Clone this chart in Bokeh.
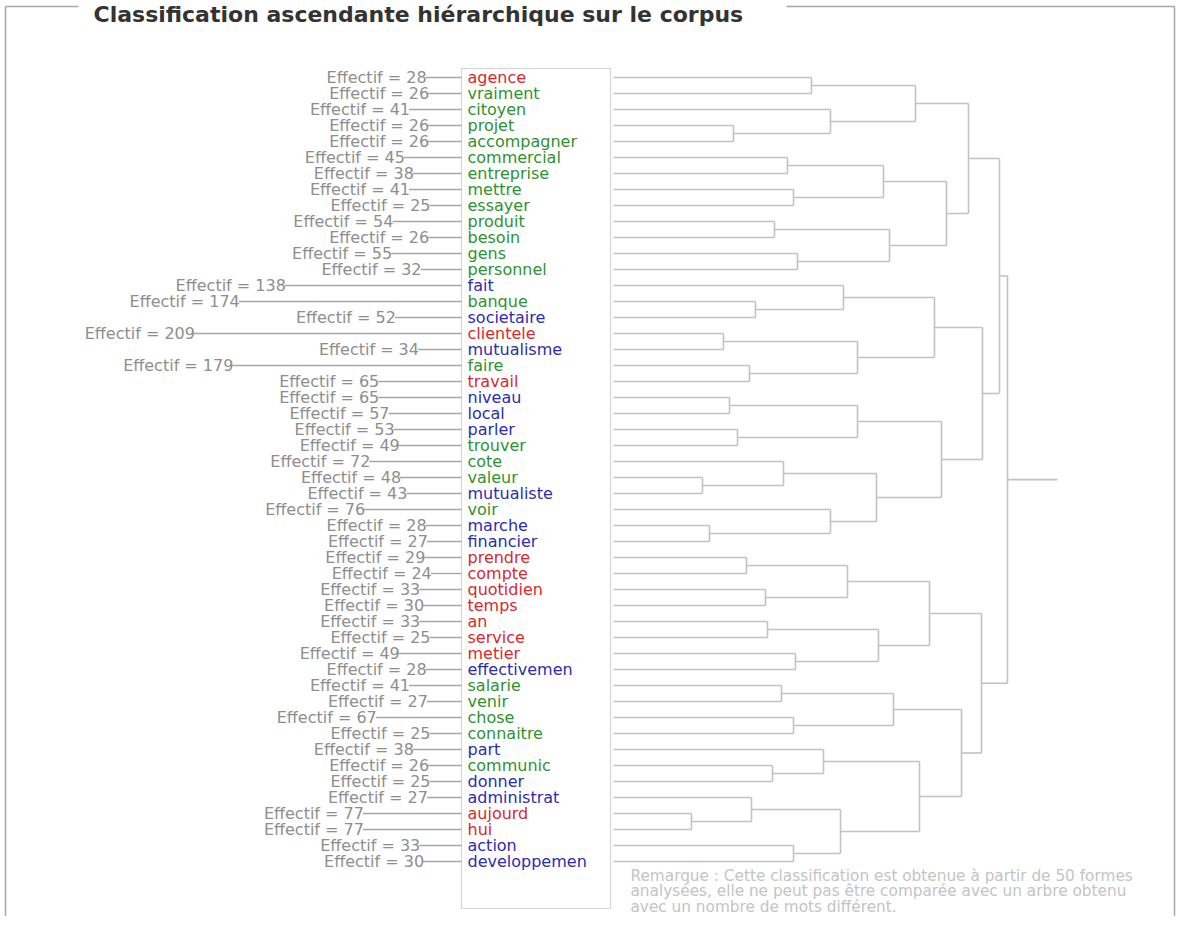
import numpy as np
from bokeh.plotting import figure
from bokeh.models import Range1d, ColumnDataSource
from bokeh.core.properties import value
from bokeh.embed import file_html
from bokeh.resources import INLINE

# ---------------- data ----------------
TITLE = "Classification ascendante hiérarchique sur le corpus"

words = ["agence", "vraiment", "citoyen", "projet", "accompagner", "commercial",
         "entreprise", "mettre", "essayer", "produit", "besoin", "gens", "personnel",
         "fait", "banque", "societaire", "clientele", "mutualisme", "faire", "travail",
         "niveau", "local", "parler", "trouver", "cote", "valeur", "mutualiste", "voir",
         "marche", "financier", "prendre", "compte", "quotidien", "temps", "an",
         "service", "metier", "effectivemen", "salarie", "venir", "chose", "connaitre",
         "part", "communic", "donner", "administrat", "aujourd", "hui", "action",
         "developpemen"]

effectifs = [28, 26, 41, 26, 26, 45, 38, 41, 25, 54, 26, 55, 32, 138, 174, 52, 209,
             34, 179, 65, 65, 57, 53, 49, 72, 48, 43, 76, 28, 27, 29, 24, 33, 30, 33,
             25, 49, 28, 41, 27, 67, 25, 38, 26, 25, 27, 77, 77, 33, 30]

classes = ["rouge", "vert", "vert", "vert", "vert", "vert", "vert", "vert", "vert",
           "vert", "vert", "vert", "vert", "bleu", "vert", "bleu", "rouge", "bleu",
           "vert", "rouge", "bleu", "bleu", "bleu", "vert", "vert", "vert", "bleu",
           "vert", "bleu", "bleu", "rouge", "rouge", "rouge", "rouge", "rouge", "rouge",
           "rouge", "bleu", "vert", "vert", "vert", "vert", "bleu", "vert", "bleu",
           "bleu", "rouge", "rouge", "bleu", "bleu"]

# linkage: leaves are 0..49, merge k creates cluster 50+k
merge_left = [0, 3, 2, 50, 5, 7, 54, 9, 11, 57, 56, 53, 14, 13, 16, 18, 64, 63,
              20, 22, 68, 25, 24, 28, 27, 72, 70, 67, 61,
              30, 32, 79, 34, 36, 82, 81, 38, 40, 86, 43, 42, 46, 45, 48, 92, 90,
              88, 85, 78]
merge_right = [1, 4, 51, 52, 6, 8, 55, 10, 12, 58, 59, 60, 15, 62, 17, 19, 65, 66,
               21, 23, 69, 26, 71, 29, 73, 74, 75, 76, 77,
               31, 33, 80, 35, 37, 83, 84, 39, 41, 87, 44, 89, 47, 91, 49, 93, 94,
               95, 96, 97]
merge_height = [198, 120, 217, 302, 174, 180, 270, 161, 184, 276, 333, 355, 142, 230,
                110, 136, 244, 321, 116, 124, 244, 89, 170, 96, 217, 263, 328, 369, 386,
                133, 152, 234, 154, 182, 265, 316, 168, 180, 280, 159, 210, 78, 138,
                180, 227, 306, 348, 368, 394]

remark_lines = ["Remarque : Cette classification est obtenue à partir de 50 formes",
                "analysées, elle ne peut pas être comparée avec un arbre obtenu",
                "avec un nombre de mots différent."]

class_colors = {"rouge": "#d8282e", "vert": "#2f9130", "bleu": "#2c2cb0"}

# ---------------- layout constants ----------------
ROW0, ROW_STEP = 77.0, 16.0
BOX_L, BOX_R, BOX_T, BOX_B = 461, 610, 68, 908
WORD_X = 467
EFF_SCALE = 1.28
DENDRO_X0 = 613
ROOT_STEM = 50
FONT = value("DejaVu Sans")

n = len(words)
ys = ROW0 + np.arange(n) * ROW_STEP

p = figure(width=1176, height=916, output_backend="svg", toolbar_location=None,
           x_range=Range1d(0, 1176), y_range=Range1d(916, 0), min_border=0)
p.axis.visible = False
p.grid.visible = False
p.outline_line_color = None
p.background_fill_color = "white"
p.border_fill_color = "white"

# frame (fieldset style)
p.segment(x0=[5, 5, 786, 1174], y0=[6, 6, 6, 6], x1=[5, 78, 1174, 1174],
          y1=[916, 6, 6, 916], line_color="#a8a8a8", line_width=1.5)

# title
p.text(x=[93], y=[14], text=[TITLE], text_font=value("DejaVu Sans"),
       text_font_style="bold", text_font_size=value("22px"), text_color="#333333",
       text_baseline="middle", text_align="left")

# word box
p.quad(left=[BOX_L], right=[BOX_R], top=[BOX_T], bottom=[BOX_B],
       fill_color="white", line_color="#d6d6d6", line_width=1.2)

# effectif connectors and labels
eff = np.array(effectifs, dtype=float)
x_start = BOX_L - EFF_SCALE * eff
src = ColumnDataSource(dict(x0=x_start, x1=np.full(n, BOX_L), y=ys,
                            lab=[f"Effectif = {e}" for e in effectifs],
                            w=words, col=[class_colors[c] for c in classes],
                            wx=np.full(n, WORD_X)))
p.segment(x0="x0", y0="y", x1="x1", y1="y", source=src, line_color="#a6a6a6",
          line_width=1.3)
p.text(x="x0", y="y", text="lab", source=src, text_font=FONT,
       text_font_size=value("16px"), text_color="#8e8e8e", text_align="right",
       text_baseline="middle", x_offset=1)
p.text(x="wx", y="y", text="w", source=src, text_font=FONT,
       text_font_size=value("16px"), text_color="col", text_align="left",
       text_baseline="middle")

# dendrogram
node_y = {i: ys[i] for i in range(n)}
node_h = {i: 0.0 for i in range(n)}
sx0, sy0, sx1, sy1 = [], [], [], []
for k, (a, b, h) in enumerate(zip(merge_left, merge_right, merge_height)):
    cid = n + k
    for c in (a, b):
        sx0.append(DENDRO_X0 + node_h[c]); sx1.append(DENDRO_X0 + h)
        sy0.append(node_y[c]); sy1.append(node_y[c])
    sx0.append(DENDRO_X0 + h); sx1.append(DENDRO_X0 + h)
    sy0.append(node_y[a]); sy1.append(node_y[b])
    node_y[cid] = (node_y[a] + node_y[b]) / 2
    node_h[cid] = h
root = n + len(merge_height) - 1
sx0.append(DENDRO_X0 + node_h[root]); sx1.append(DENDRO_X0 + node_h[root] + ROOT_STEM)
sy0.append(node_y[root]); sy1.append(node_y[root])
p.segment(x0=sx0, y0=sy0, x1=sx1, y1=sy1, line_color="#c2c2c2", line_width=1.6)

# remark
p.text(x=[630] * len(remark_lines), y=[875 + 15.5 * i for i in range(len(remark_lines))],
       text=remark_lines, text_font=FONT, text_font_size=value("15.3px"),
       text_color="#c4c4c4", text_align="left", text_baseline="middle")

open("out.html", "w").write(file_html(p, INLINE))
